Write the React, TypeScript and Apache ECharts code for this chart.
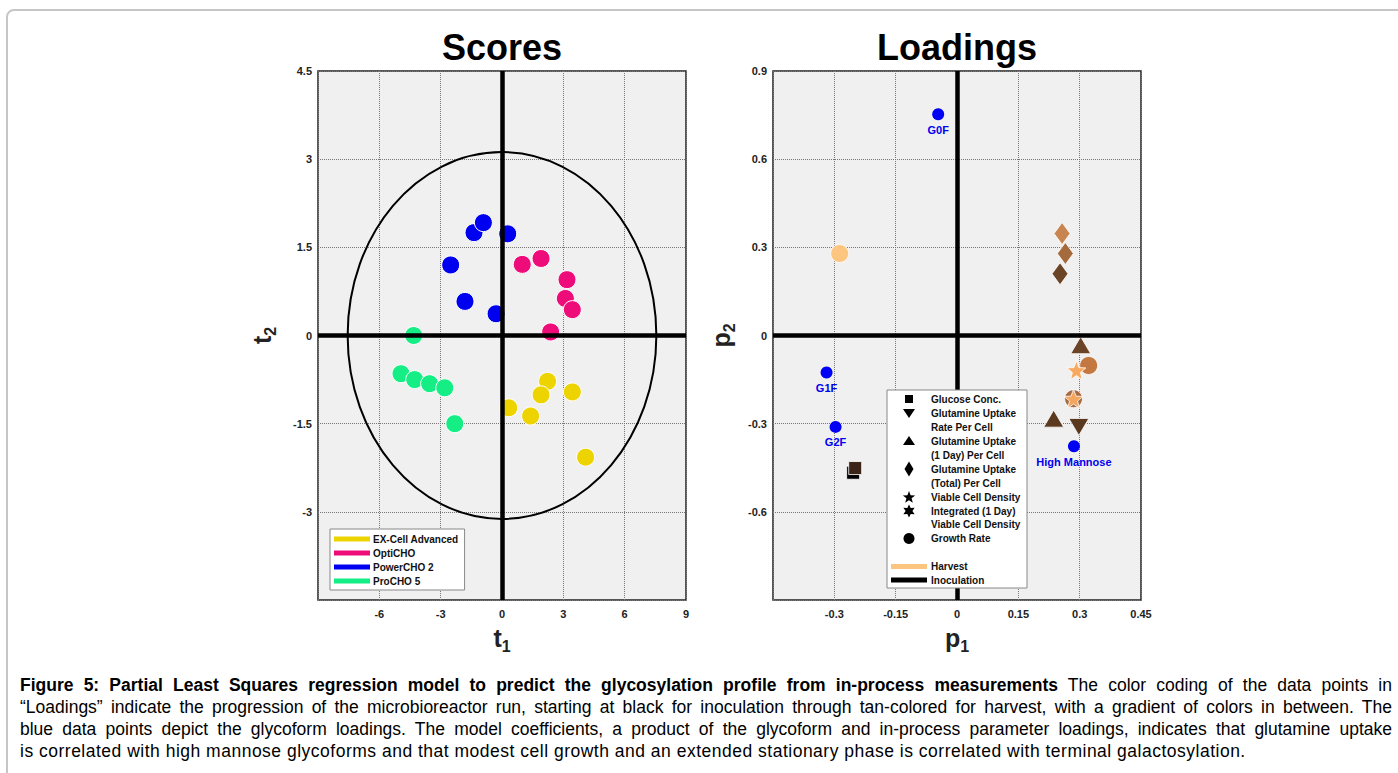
import React, { useEffect, useRef } from "react";
import * as echarts from "echarts";

const FONT = '"Liberation Sans", Arial, Helvetica, sans-serif';

// ---------- Scores (left panel) ----------
const scoreNames = ["EX-Cell Advanced", "OptiCHO", "PowerCHO 2", "ProCHO 5"];
const scoreColors = ["#EDD400", "#EE0C7A", "#0000F0", "#14EE84"];
const exCellScores = [[2.23, -0.78], [1.91, -1.01], [3.44, -0.96], [0.33, -1.23], [1.4, -1.37], [4.09, -2.07]];
const optiChoScores = [[0.99, 1.21], [1.91, 1.31], [3.18, 0.95], [3.1, 0.63], [3.44, 0.44], [2.38, 0.06]];
const powerChoScores = [[-1.37, 1.75], [-0.91, 1.92], [0.28, 1.73], [-2.51, 1.2], [-1.81, 0.58], [-0.29, 0.37]];
const proChoScores = [[-4.32, 0.0], [-4.94, -0.65], [-4.27, -0.75], [-3.54, -0.82], [-2.8, -0.89], [-2.31, -1.5]];
const confidenceEllipse = [0, 0, 7.55, 3.12]; // cx, cy, semi-axis t1, semi-axis t2

// ---------- Loadings (right panel) ----------
const glycoformNames = ["G0F", "G1F", "G2F", "High Mannose"];
const glycoformLoadings = [[-0.046, 0.753], [-0.319, -0.126], [-0.297, -0.311], [0.286, -0.377]];
const glucoseConc = [[-0.254, -0.467], [-0.249, -0.451]];
const glucoseColors = ["#000000", "#3B2416"];
const glnUptakeTotal = [[0.257, 0.347], [0.265, 0.279], [0.252, 0.21]];
const glnUptakeTotalColors = ["#C98550", "#A66B3D", "#6B4426"];
const growthRate = [[-0.287, 0.279], [0.322, -0.102], [0.285, -0.215]];
const growthRateColors = ["#FDC680", "#C27840", "#A86C45"];
const glnUptake1Day = [[0.3025, -0.033], [0.2365, -0.283]];
const glnUptake1DayColors = ["#6B4428", "#5C3A1F"];
const glnUptakeRate = [[0.298, -0.311]];
const glnUptakeRateColors = ["#5A381E"];
const viableCellDensity = [[0.292, -0.118], [0.285, -0.215]];
const viableCellDensityColors = ["#F9A860", "#F5A65E"];

const captionBold =
  "Figure 5: Partial Least Squares regression model to predict the glycosylation profile from in-process measurements";
const captionLines = [
  " The color coding of the data points in",
  "\u201CLoadings\u201D indicate the progression of the microbioreactor run, starting at black for inoculation through tan-colored for harvest, with a gradient of colors in between. The",
  "blue data points depict the glycoform loadings. The model coefficients, a product of the glycoform and in-process parameter loadings, indicates that glutamine uptake",
  "is correlated with high mannose glycoforms and that modest cell growth and an extended stationary phase is correlated with terminal galactosylation.",
];

function starPoints(cx: number, cy: number, R: number, r: number, n: number) {
  const pts: number[][] = [];
  for (let i = 0; i < 2 * n; i++) {
    const a = -Math.PI / 2 + (i * Math.PI) / n;
    const rad = i % 2 === 0 ? R : r;
    pts.push([cx + rad * Math.cos(a), cy + rad * Math.sin(a)]);
  }
  return pts;
}
const STAR_PATH =
  "path://M" + starPoints(50, 52, 50, 21, 5).map((p) => p[0].toFixed(2) + "," + p[1].toFixed(2)).join(" L") + " Z";

const withColors = (vals: number[][], cols: string[]) =>
  vals.map((v, i) => ({ value: v, itemStyle: { color: cols[i] } }));

function axisLabelStyle(margin: number) {
  return {
    showMinLabel: false,
    showMaxLabel: true,
    fontSize: 11,
    fontWeight: "bold",
    color: "#222",
    fontFamily: FONT,
    margin,
  };
}
const splitLineStyle = { show: true, lineStyle: { type: "dotted", color: "#777", width: 1 } };

function axisName(letter: string, sub: string) {
  return {
    name: `{t|${letter}}{s|${sub}}`,
    nameTextStyle: {
      rich: {
        t: { fontSize: 25, fontWeight: "bold", fontFamily: FONT, color: "#222" },
        s: { fontSize: 16, fontWeight: "bold", fontFamily: FONT, color: "#222", padding: [16, 0, 0, 0] },
      },
    },
  };
}

export default function App() {
  const ref = useRef<HTMLDivElement>(null);

  useEffect(() => {
    if (!ref.current) return;
    const chart = echarts.init(ref.current, null, { renderer: "svg" });

    const zeroLines = {
      silent: true,
      symbol: ["none", "none"],
      label: { show: false },
      lineStyle: { color: "#000", width: 4.5, type: "solid" },
      data: [{ xAxis: 0 }, { yAxis: 0 }],
    };

    const scoreSeries = [exCellScores, optiChoScores, powerChoScores, proChoScores].map((d, i) => ({
      type: "scatter",
      name: scoreNames[i],
      xAxisIndex: 0,
      yAxisIndex: 0,
      data: d,
      symbol: "circle",
      symbolSize: 18,
      z: 3,
      itemStyle: { color: scoreColors[i], borderColor: "#fff", borderWidth: 1, opacity: 1 },
    }));

    const loadSeries = (data: any[], symbol: string, size: any, extra: any = {}) => ({
      type: "scatter",
      xAxisIndex: 1,
      yAxisIndex: 1,
      data,
      symbol,
      symbolSize: size,
      z: 3,
      itemStyle: { borderColor: "#fff", borderWidth: 0.8, opacity: 1 },
      ...extra,
    });

    const legendRows: [string, number][] = [
      ["Glucose Conc.", 9],
      ["Glutamine Uptake", 23],
      ["Rate Per Cell", 37],
      ["Glutamine Uptake", 51],
      ["(1 Day) Per Cell", 65],
      ["Glutamine Uptake", 79],
      ["(Total) Per Cell", 93],
      ["Viable Cell Density", 107],
      ["Integrated (1 Day)", 121],
      ["Viable Cell Density", 134.5],
      ["Growth Rate", 148.5],
      ["Harvest", 176.5],
      ["Inoculation", 190],
    ];
    const txt = (text: string, x: number, y: number, size: number, color = "#111", align = "left", z = 100) => ({
      type: "text",
      x,
      y,
      z,
      style: {
        text,
        fill: color,
        font: `bold ${size}px ${FONT}`,
        fontSize: size,
        fontWeight: "bold",
        fontFamily: FONT,
        align,
        textAlign: align,
        verticalAlign: "middle",
        textVerticalAlign: "middle",
      },
    });
    const sym = { fill: "#000" };
    const Z = 101;
    const loadingLegend = {
      type: "group",
      x: 887,
      y: 390,
      z: 100,
      children: [
        { type: "rect", z: 100, shape: { x: 0, y: 0, width: 140, height: 198 }, style: { fill: "#fff", stroke: "#888", lineWidth: 1 } },
        ...legendRows.map(([t, y]) => txt(t, 44, y, 10, "#111", "left", Z)),
        { type: "rect", z: Z, shape: { x: 18, y: 5, width: 8, height: 8 }, style: sym },
        { type: "polygon", z: Z, shape: { points: [[16, 19], [28, 19], [22, 28]] }, style: sym },
        { type: "polygon", z: Z, shape: { points: [[16, 55], [28, 55], [22, 46]] }, style: sym },
        { type: "polygon", z: Z, shape: { points: [[22, 71.5], [26.5, 79], [22, 86.5], [17.5, 79]] }, style: sym },
        { type: "polygon", z: Z, shape: { points: starPoints(22, 107.5, 6.5, 2.7, 5) }, style: sym },
        { type: "polygon", z: Z, shape: { points: starPoints(22, 121, 6.5, 3.4, 6) }, style: sym },
        { type: "circle", z: Z, shape: { cx: 22, cy: 148.5, r: 5.5 }, style: sym },
        { type: "rect", z: Z, shape: { x: 4, y: 174, width: 36, height: 5 }, style: { fill: "#FCC57F" } },
        { type: "rect", z: Z, shape: { x: 4, y: 187.5, width: 36, height: 5 }, style: { fill: "#000" } },
      ],
    };

    const option: any = {
      animation: false,
      textStyle: { fontFamily: FONT },
      grid: [
        { left: 318, top: 71, width: 368, height: 529, show: true, backgroundColor: "#F0F0F0", borderColor: "#222", borderWidth: 1.5 },
        { left: 773, top: 71, width: 368, height: 529, show: true, backgroundColor: "#F0F0F0", borderColor: "#222", borderWidth: 1.5 },
      ],
      xAxis: [
        {
          type: "value", gridIndex: 0, min: -9, max: 9, interval: 3,
          axisLine: { show: false }, axisTick: { show: false },
          splitLine: splitLineStyle, axisLabel: axisLabelStyle(8),
          nameLocation: "middle", nameGap: 22, ...axisName("t", "1"),
        },
        {
          type: "value", gridIndex: 1, min: -0.45, max: 0.45, interval: 0.15,
          axisLine: { show: false }, axisTick: { show: false },
          splitLine: splitLineStyle, axisLabel: axisLabelStyle(8),
          nameLocation: "middle", nameGap: 22, ...axisName("p", "1"),
        },
      ],
      yAxis: [
        {
          type: "value", gridIndex: 0, min: -4.5, max: 4.5, interval: 1.5,
          axisLine: { show: false }, axisTick: { show: false },
          splitLine: splitLineStyle, axisLabel: axisLabelStyle(6),
          nameLocation: "middle", nameGap: 40, ...axisName("t", "2"),
        },
        {
          type: "value", gridIndex: 1, min: -0.9, max: 0.9, interval: 0.3,
          axisLine: { show: false }, axisTick: { show: false },
          splitLine: splitLineStyle, axisLabel: axisLabelStyle(6),
          nameLocation: "middle", nameGap: 36, ...axisName("p", "2"),
        },
      ],
      legend: [
        {
          data: scoreNames,
          selectedMode: false,
          orient: "vertical",
          left: 330,
          top: 529,
          icon: "rect",
          itemWidth: 36,
          itemHeight: 5,
          itemGap: 2,
          padding: [4, 6, 3, 4],
          backgroundColor: "#fff",
          borderColor: "#888",
          borderWidth: 1,
          borderRadius: 0,
          itemStyle: { borderWidth: 0 },
          textStyle: { fontSize: 10, fontWeight: "bold", color: "#111", fontFamily: FONT, lineHeight: 12, padding: [0, 0, 0, -2] },
        },
      ],
      graphic: [
        txt("Scores", 502, 47, 36, "#000", "center"),
        txt("Loadings", 957, 47, 36, "#000", "center"),
        loadingLegend,
      ],
      series: [
        {
          type: "custom",
          xAxisIndex: 0,
          yAxisIndex: 0,
          silent: true,
          z: 2,
          data: [confidenceEllipse],
          renderItem: (_p: any, api: any) => {
            const c = api.coord([api.value(0), api.value(1)]);
            const s = api.size([api.value(2), api.value(3)]);
            return {
              type: "ellipse",
              shape: { cx: c[0], cy: c[1], rx: s[0], ry: s[1] },
              style: { fill: "transparent", stroke: "#000", lineWidth: 2 },
            };
          },
        },
        { type: "scatter", xAxisIndex: 0, yAxisIndex: 0, data: [], z: 2, markLine: zeroLines },
        ...scoreSeries,
        { type: "scatter", xAxisIndex: 1, yAxisIndex: 1, data: [], z: 2, markLine: zeroLines },
        loadSeries(
          glycoformLoadings.map((v, i) => ({ name: glycoformNames[i], value: v })),
          "circle",
          12,
          {
            itemStyle: { color: "#0000F5", borderWidth: 0, opacity: 1 },
            label: {
              show: true,
              position: "bottom",
              distance: 4,
              formatter: "{b}",
              color: "#0000F0",
              opacity: 1,
              fontSize: 11,
              fontWeight: "bold",
              fontFamily: FONT,
            },
          }
        ),
        loadSeries(withColors(glucoseConc, glucoseColors), "rect", 13),
        loadSeries(withColors(glnUptakeTotal, glnUptakeTotalColors), "diamond", [16, 22]),
        loadSeries(withColors(growthRate, growthRateColors), "circle", 18),
        loadSeries(withColors(glnUptake1Day, glnUptake1DayColors), "triangle", [20, 17]),
        loadSeries(withColors(glnUptakeRate, glnUptakeRateColors), "triangle", [20, 17], { symbolRotate: 180 }),
        loadSeries(withColors(viableCellDensity, viableCellDensityColors), STAR_PATH, 19),
      ],
    };

    chart.setOption(option);
    return () => chart.dispose();
  }, []);

  return (
    <div style={{ position: "fixed", left: 0, top: 0, width: 1398, height: 773, overflow: "hidden", background: "#fff" }}>
      <div
        style={{
          position: "absolute", left: 6, top: 9, width: 1500, height: 900,
          border: "2px solid #c6c6c6", borderRadius: 8, boxSizing: "border-box",
        }}
      />
      <div ref={ref} style={{ position: "absolute", left: 0, top: 0, width: 1398, height: 665 }} />
      <div
        style={{
          position: "absolute", left: 20, top: 674, width: 1372,
          fontFamily: FONT, fontSize: 17.5, lineHeight: "22px", color: "#000",
        }}
      >
        {captionLines.map((ln, i) => (
          <div
            key={i}
            style={{
              textAlign: "justify",
              textAlignLast: i < 3 ? "justify" : "left",
              letterSpacing: i === 3 ? "0.5px" : "normal",
            } as any}
          >
            {i === 0 ? <b>{captionBold}</b> : null}
            {ln}
          </div>
        ))}
      </div>
    </div>
  );
}
